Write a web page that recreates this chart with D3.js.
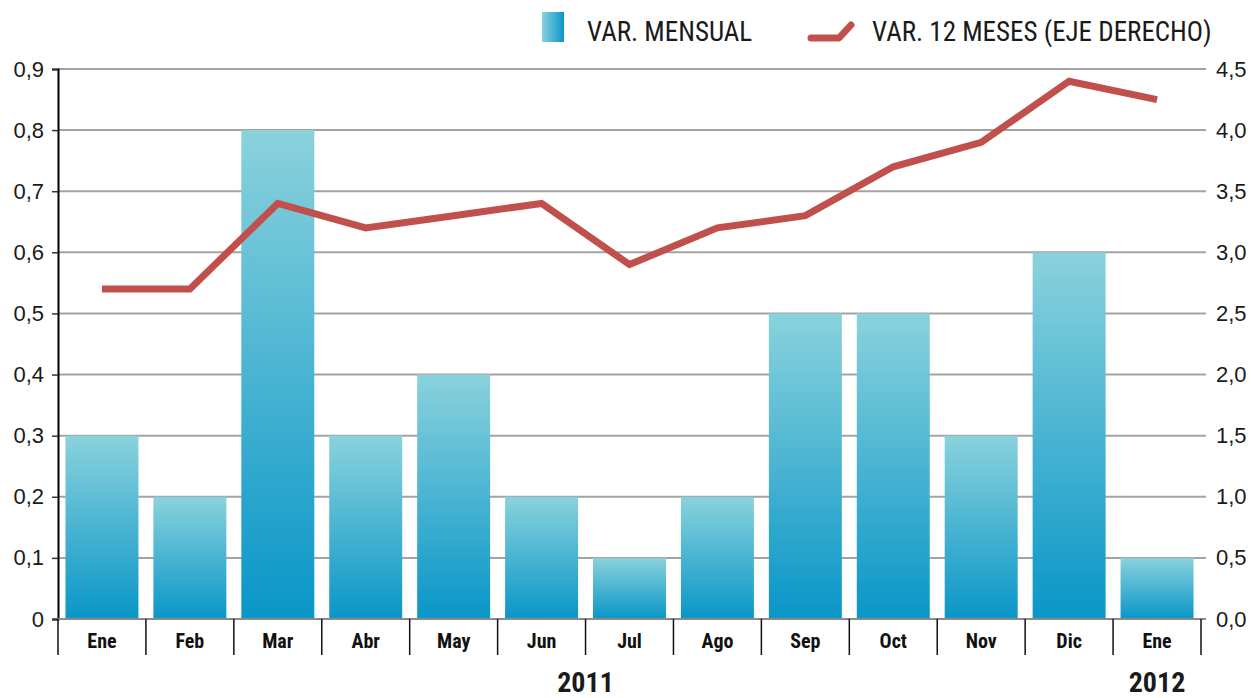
<!DOCTYPE html>
<html>
<head>
    <meta charset="utf-8">
    <script src="https://d3js.org/d3.v7.min.js"></script>
    <style>
        body { margin: 0; background: #fff; }
        text { font-family: "Liberation Sans Narrow", "Roboto Condensed", "Liberation Sans", sans-serif; }
    </style>
</head>
<body>
    <div id="chart"></div>
    <script>
        // Months (2011 + Jan 2012)
        const months = ["Ene", "Feb", "Mar", "Abr", "May", "Jun", "Jul", "Ago", "Sep", "Oct", "Nov", "Dic", "Ene"];
        const monthly = [0.3, 0.2, 0.8, 0.3, 0.4, 0.2, 0.1, 0.2, 0.5, 0.5, 0.3, 0.6, 0.1];
        const yearly = [2.7, 2.7, 3.4, 3.2, 3.3, 3.4, 2.9, 3.2, 3.3, 3.7, 3.9, 4.4, 4.25];
        const leftTicks = [0, 0.1, 0.2, 0.3, 0.4, 0.5, 0.6, 0.7, 0.8, 0.9];
        const rightTicks = [0, 0.5, 1, 1.5, 2, 2.5, 3, 3.5, 4, 4.5];
        const years = [{ label: "2011", from: 0, to: 11 }, { label: "2012", from: 12, to: 12 }];

        const W = 1251, H = 698;
        const plot = { left: 58, right: 1201, top: 69, bottom: 619 };

        const svg = d3.select("#chart").append("svg")
            .attr("width", W).attr("height", H);

        const idx = months.map((d, i) => i);
        const x = d3.scaleBand().domain(idx).range([plot.left, plot.right]).paddingInner(0.17).paddingOuter(0.085);
        const y = d3.scaleLinear().domain([0, 0.9]).range([plot.bottom, plot.top]);
        const y2 = d3.scaleLinear().domain([0, 4.5]).range([plot.bottom, plot.top]);

        // gradient for bars
        const defs = svg.append("defs");
        const grad = defs.append("linearGradient").attr("id", "barGrad")
            .attr("x1", 0).attr("y1", 0).attr("x2", 0).attr("y2", 1);
        grad.append("stop").attr("offset", "0%").attr("stop-color", "#8ad2dc");
        grad.append("stop").attr("offset", "100%").attr("stop-color", "#0996c8");
        const lgrad = defs.append("linearGradient").attr("id", "legGrad")
            .attr("x1", 0).attr("y1", 0).attr("x2", 1).attr("y2", 0);
        lgrad.append("stop").attr("offset", "0%").attr("stop-color", "#8ad2dc");
        lgrad.append("stop").attr("offset", "100%").attr("stop-color", "#0996c8");

        // gridlines
        svg.append("g").selectAll("line")
            .data(leftTicks.slice(1))
            .join("line")
            .attr("x1", plot.left).attr("x2", plot.right + 5)
            .attr("y1", d => y(d)).attr("y2", d => y(d))
            .attr("stroke", "#a3a3a3").attr("stroke-width", 2);

        // bars
        svg.append("g").selectAll("rect")
            .data(monthly)
            .join("rect")
            .attr("x", (d, i) => x(i))
            .attr("width", x.bandwidth())
            .attr("y", d => y(d))
            .attr("height", d => plot.bottom - y(d))
            .attr("fill", "url(#barGrad)");

        // left axis
        const axL = svg.append("g")
            .attr("transform", `translate(${plot.left},0)`)
            .call(d3.axisLeft(y).tickValues(leftTicks).tickSize(6).tickPadding(8)
                .tickFormat(d => d === 0 ? "0" : d3.format(".1f")(d).replace(".", ",")));
        axL.select(".domain").attr("stroke", "#000").attr("stroke-width", 2);
        axL.selectAll(".tick line").attr("stroke", "#333").attr("stroke-width", 1.5);
        axL.selectAll("text").attr("font-size", 22).attr("fill", "#1a1a1a")
            .style("font-family", "'Liberation Sans Narrow', sans-serif");

        // right axis
        const axR = svg.append("g")
            .attr("transform", `translate(${plot.right + 5},0)`)
            .call(d3.axisRight(y2).tickValues(rightTicks).tickSize(0).tickPadding(10)
                .tickFormat(d => d3.format(".1f")(d).replace(".", ",")));
        axR.select(".domain").remove();
        axR.selectAll("text").attr("font-size", 22).attr("fill", "#1a1a1a")
            .style("font-family", "'Liberation Sans Narrow', sans-serif");

        // baseline
        svg.append("line")
            .attr("x1", plot.left).attr("x2", plot.right + 5)
            .attr("y1", plot.bottom).attr("y2", plot.bottom)
            .attr("stroke", "#8a8a8a").attr("stroke-width", 2);

        // category dividers
        const bounds = d3.range(months.length + 1).map(i => plot.left + i * (plot.right - plot.left) / months.length);
        svg.append("g").selectAll("line")
            .data(bounds)
            .join("line")
            .attr("x1", d => d).attr("x2", d => d)
            .attr("y1", plot.bottom).attr("y2", plot.bottom + 36)
            .attr("stroke", "#111").attr("stroke-width", 1.5);

        // month labels
        svg.append("g").selectAll("text")
            .data(months)
            .join("text")
            .attr("x", (d, i) => x(i) + x.bandwidth() / 2)
            .attr("y", plot.bottom + 29)
            .attr("text-anchor", "middle")
            .attr("font-size", 20).attr("font-weight", "bold").attr("fill", "#111")
            .text(d => d);

        // year labels
        svg.append("g").selectAll("text")
            .data(years)
            .join("text")
            .attr("x", d => (x(d.from) + x(d.to) + x.bandwidth()) / 2)
            .attr("y", 692)
            .attr("text-anchor", "middle")
            .attr("font-size", 28).attr("font-weight", "bold").attr("fill", "#1a1a1a")
            .text(d => d.label);

        // 12-month line
        const line = d3.line()
            .x((d, i) => x(i) + x.bandwidth() / 2)
            .y(d => y2(d));
        svg.append("path")
            .datum(yearly)
            .attr("fill", "none")
            .attr("stroke", "#c1504d")
            .attr("stroke-width", 7)
            .attr("stroke-linejoin", "miter")
            .attr("d", line);

        // legend
        const leg = svg.append("g");
        leg.append("rect").attr("x", 542).attr("y", 12).attr("width", 22).attr("height", 30)
            .attr("fill", "url(#legGrad)");
        leg.append("text").attr("x", 587).attr("y", 41)
            .attr("font-size", 27).attr("fill", "#1a1a1a").text("VAR. MENSUAL");
        leg.append("path").attr("d", "M811,38 L839,38 L851,25")
            .attr("fill", "none").attr("stroke", "#c1504d").attr("stroke-width", 7)
            .attr("stroke-linecap", "round").attr("stroke-linejoin", "round");
        leg.append("text").attr("x", 872).attr("y", 41)
            .attr("font-size", 27).attr("fill", "#1a1a1a").text("VAR. 12 MESES (EJE DERECHO)");
    </script>
</body>
</html>
